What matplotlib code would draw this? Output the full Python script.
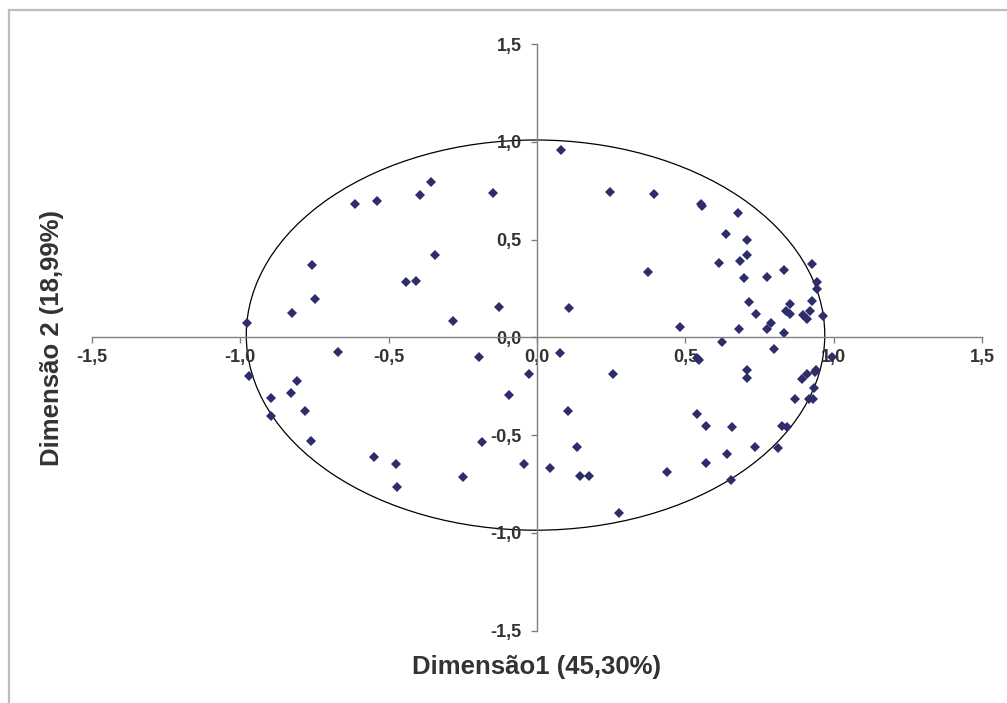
import matplotlib.pyplot as plt
from matplotlib.patches import Ellipse, Rectangle
from matplotlib.ticker import FuncFormatter

# Dimension coordinates of the variables
dim1 = [
    -0.978, -0.825, -0.758, -0.749, -0.615, -0.540, -0.443, -0.408, -0.394, -0.357,
    -0.343, -0.284, -0.148, -0.129,
    0.081, 0.245, 0.393, 0.552, 0.555, 0.676, 0.637, 0.709, 0.707, 0.685,
    0.613, 0.375, 0.699, 0.774, 0.833, 0.926, 0.943, 0.945, 0.928, 0.713,
    0.853, 0.838, 0.853, 0.920, 0.898, 0.909, 0.965, 0.739, 0.788, 0.775,
    0.831, 0.681, 0.483, 0.109,
    0.079, 0.257, 0.623, 0.800, 0.538, 0.546, 0.707, 0.707, 0.993, 0.894,
    0.909, 0.937, 0.940, 0.935, 0.870, 0.918, 0.929, 0.106, 0.538, 0.569,
    0.658, 0.827, 0.842, 0.134, 0.736, 0.813, 0.641, 0.044, 0.145, 0.176,
    0.439, 0.571, 0.655, 0.277,
    -0.026, -0.972, -0.898, -0.898, -0.828, -0.810, -0.781, -0.763, -0.672, -0.549,
    -0.475, -0.472, -0.251, -0.194, -0.184, -0.094, -0.043,
]
dim2 = [
    0.073, 0.124, 0.369, 0.197, 0.685, 0.697, 0.286, 0.291, 0.727, 0.794,
    0.422, 0.084, 0.741, 0.158,
    0.959, 0.744, 0.732, 0.683, 0.672, 0.639, 0.528, 0.499, 0.422, 0.393,
    0.379, 0.333, 0.303, 0.311, 0.344, 0.374, 0.282, 0.250, 0.188, 0.180,
    0.171, 0.136, 0.122, 0.134, 0.114, 0.095, 0.112, 0.122, 0.076, 0.043,
    0.025, 0.043, 0.052, 0.151,
    -0.079, -0.188, -0.025, -0.057, -0.103, -0.115, -0.166, -0.205, -0.098, -0.214,
    -0.185, -0.178, -0.166, -0.257, -0.315, -0.315, -0.315, -0.376, -0.393, -0.451,
    -0.460, -0.451, -0.456, -0.562, -0.562, -0.564, -0.596, -0.666, -0.707, -0.707,
    -0.686, -0.642, -0.727, -0.898,
    -0.188, -0.197, -0.308, -0.401, -0.282, -0.222, -0.374, -0.529, -0.076, -0.611,
    -0.645, -0.766, -0.712, -0.098, -0.536, -0.296, -0.649,
]

tick_values = [-1.5, -1.0, -0.5, 0.0, 0.5, 1.0, 1.5]

x_title = "Dimensão1 (45,30%)"
y_title = "Dimensão 2 (18,99%)"

TEXT_COLOR = "#333333"
MARKER_COLOR = "#2d2d6b"
AXIS_COLOR = "#808080"

plt.rcParams["font.family"] = ["Liberation Sans", "DejaVu Sans"]

fig = plt.figure(figsize=(10.07, 7.03), dpi=100)

# outer chart frame (gray, open to the right and bottom)
fig.patches.append(
    Rectangle((8.5 / 1007, -0.1), 1.2, (703 - 10.5) / 703 + 0.1,
              transform=fig.transFigure, fill=False,
              edgecolor="#c4bcbc", linewidth=1.6)
)

ax = fig.add_axes([92 / 1007, 72.3 / 703, 890 / 1007, 586.5 / 703])

ax.set_xlim(-1.5, 1.5)
ax.set_ylim(-1.5, 1.5)

# correlation circle
ax.add_patch(
    Ellipse((-0.005, 0.012), 2 * 0.975, 2 * 0.998,
            fill=False, edgecolor="black", linewidth=0.9)
)

ax.plot(dim1, dim2, linestyle="none", marker="D", markersize=4.6,
        color=MARKER_COLOR, markeredgewidth=0)

# axes crossing at the origin
for side in ["top", "right"]:
    ax.spines[side].set_visible(False)
for side in ["left", "bottom"]:
    ax.spines[side].set_position(("data", 0))
    ax.spines[side].set_color(AXIS_COLOR)
    ax.spines[side].set_linewidth(1.0)

ax.set_xticks(tick_values)
ax.set_yticks(tick_values)

comma = FuncFormatter(lambda v, pos: f"{v:.1f}".replace(".", ","))
ax.xaxis.set_major_formatter(comma)
ax.yaxis.set_major_formatter(comma)

ax.tick_params(axis="both", direction="out", length=4, width=1.0,
               color=AXIS_COLOR, labelsize=13, labelcolor=TEXT_COLOR)
ax.tick_params(axis="x", pad=4)
ax.tick_params(axis="y", pad=7)

for label in ax.get_xticklabels() + ax.get_yticklabels():
    label.set_fontweight("bold")

fig.text(537 / 1007, (703 - 667) / 703, x_title, ha="center", va="center",
         fontsize=18.5, fontweight="bold", color=TEXT_COLOR)
fig.text(52 / 1007, (703 - 338) / 703, y_title, ha="center", va="center",
         rotation=90, fontsize=18.5, fontweight="bold", color=TEXT_COLOR)

fig.savefig("out.png", dpi=100)
